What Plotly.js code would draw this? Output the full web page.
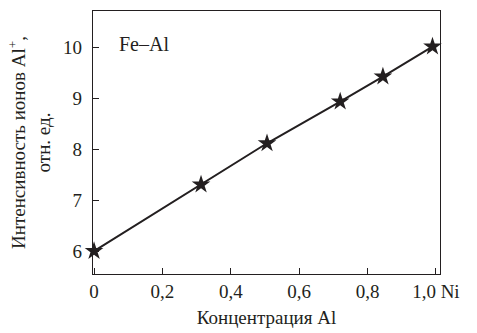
<!DOCTYPE html>
<html><head><meta charset="utf-8">
<script src="https://cdn.plot.ly/plotly-3.0.1.min.js"></script>
<style>body{margin:0;background:#fff}</style>
</head><body>
<div id="c" style="width:477px;height:333px"></div>
<script>
const conc = [0, 0.313, 0.506, 0.72, 0.845, 0.99];
const intensity = [6.0, 7.31, 8.12, 8.94, 9.43, 10.02];
const xTickVals = [0, 0.2, 0.4, 0.6, 0.8, 1.0];
const xTickText = ['0', '0,2', '0,4', '0,6', '0,8', '1,0 Ni'];
const yTickVals = [6, 7, 8, 9, 10];

const F = 'Liberation Serif';
const ink = '#231f20';
const fnt = (s) => ({family: F, size: s, color: ink});
Plotly.newPlot('c', [{
  x: conc, y: intensity, mode: 'lines+markers', type: 'scatter',
  line: {color: ink, width: 2},
  marker: {symbol: 'star', size: 14, color: ink},
  cliponaxis: false, showlegend: false
}], {
  width: 477, height: 333,
  margin: {l: 93, r: 37, t: 11, b: 59},
  paper_bgcolor: '#fff', plot_bgcolor: '#fff',
  font: fnt(18),
  xaxis: {range: [-0.003, 1.012], tickvals: xTickVals, ticktext: xTickText,
    ticks: 'inside', ticklen: 6, tickcolor: ink, showline: true, mirror: true,
    linecolor: ink, linewidth: 1.3, showgrid: false, zeroline: false,
    tickfont: fnt(19),
    title: {text: 'Концентрация Al', standoff: 9, font: fnt(19)}},
  yaxis: {range: [5.55, 10.72], tickvals: yTickVals,
    ticks: 'inside', ticklen: 6, tickcolor: ink, showline: true, mirror: true,
    linecolor: ink, linewidth: 1.3, showgrid: false, zeroline: false,
    ticklabelstandoff: 6, tickfont: fnt(19),
    title: {text: 'Интенсивность ионов Al<sup>+</sup>,<br>отн. ед.', standoff: 7, font: fnt(19)}},
  annotations: [
    {text: 'Fe–Al', xref: 'paper', yref: 'paper', x: 0.07, y: 0.875, xanchor: 'left', yanchor: 'middle', showarrow: false,
     font: fnt(20)}
  ]
}, {staticPlot: true});
</script>
</body></html>
